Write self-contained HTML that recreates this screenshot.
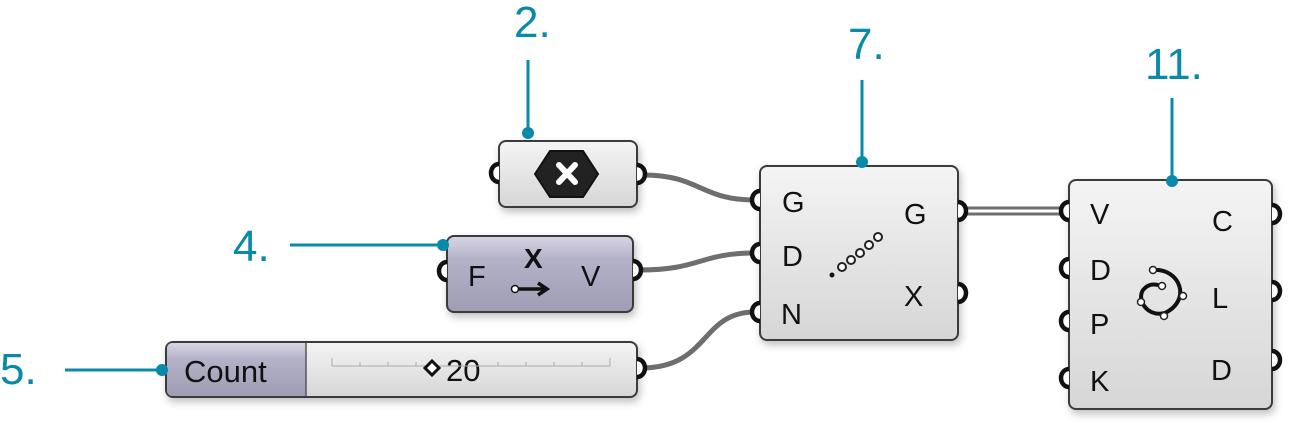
<!DOCTYPE html>
<html><head><meta charset="utf-8"><style>
html,body{margin:0;padding:0;background:#fff;width:1313px;height:441px;overflow:hidden}
svg{display:block}
text{font-family:"Liberation Sans",sans-serif}
</style></head><body>
<svg width="1313" height="441" viewBox="0 0 1313 441" xmlns="http://www.w3.org/2000/svg">
<defs>
<linearGradient id="g1" x1="0" y1="0" x2="0" y2="1"><stop offset="0" stop-color="#f4f4f4"/><stop offset="1" stop-color="#d6d6d6"/></linearGradient>
<linearGradient id="g2" x1="0" y1="0" x2="0" y2="1"><stop offset="0" stop-color="#d8d6e4"/><stop offset="0.3" stop-color="#b4b2c8"/><stop offset="1" stop-color="#9f9db4"/></linearGradient>
<filter id="sh" x="-20%" y="-20%" width="140%" height="150%"><feDropShadow dx="2" dy="4" stdDeviation="4" flood-color="#000" flood-opacity="0.25"/></filter>
</defs>
<g fill="none" stroke="#6e6e6e" stroke-width="5">
<path d="M643 175 C700 175 700 200 755 200"/>
<path d="M640 270 C700 270 700 253 755 253"/>
<path d="M641 368 C710 368 700 312 755 312"/>
</g>
<path d="M966 208 L1062 208 M966 214 L1062 214" stroke="#6e6e6e" stroke-width="3"/>
<g filter="url(#sh)" stroke="#3a3a3a" stroke-width="2">
<rect x="499" y="141" width="138" height="66" rx="7" fill="url(#g1)"/>
<rect x="447" y="236" width="186" height="76" rx="7" fill="url(#g2)"/>
<rect x="166" y="342" width="471" height="55" rx="7" fill="url(#g1)"/>
<rect x="760" y="166" width="198" height="174" rx="7" fill="url(#g1)"/>
<rect x="1069" y="180" width="203" height="229" rx="7" fill="url(#g1)"/>
</g>
<path d="M173 343 H306 V396 H173 Q167 396 167 390 V349 Q167 343 173 343Z" fill="url(#g2)"/>
<line x1="306" y1="343" x2="306" y2="396" stroke="#555" stroke-width="1.5"/>
<g fill="#fff" stroke="#111" stroke-width="4.5">
<path d="M499 164 A8 9 0 0 0 499 182"/><path d="M637 165 A8 9 0 0 1 637 183"/>
<path d="M447 262 A8 9 0 0 0 447 280"/><path d="M633 261 A8 9 0 0 1 633 279"/>
<path d="M637 359 A8 9 0 0 1 637 377"/>
<path d="M760 191 A8 9 0 0 0 760 209"/><path d="M760 244 A8 9 0 0 0 760 262"/><path d="M760 303 A8 9 0 0 0 760 321"/>
<path d="M958 202 A8 9 0 0 1 958 220"/><path d="M958 284 A8 9 0 0 1 958 302"/>
<path d="M1069 202 A8 9 0 0 0 1069 220"/><path d="M1069 259 A8 9 0 0 0 1069 277"/><path d="M1069 312 A8 9 0 0 0 1069 330"/><path d="M1069 369 A8 9 0 0 0 1069 387"/>
<path d="M1272 205 A8 9 0 0 1 1272 223"/><path d="M1272 282 A8 9 0 0 1 1272 300"/><path d="M1272 351 A8 9 0 0 1 1272 369"/>
</g>
<polygon points="535,174 550,151 583,151 598,174 583,197 550,197" fill="#222" stroke="#111" stroke-width="2"/>
<path d="M559 165 L575 182 M575 165 L559 182" stroke="#fff" stroke-width="6" stroke-linecap="round"/>
<g fill="#111" font-size="29">
<text x="468" y="286">F</text><text x="581" y="286">V</text>
<text x="782" y="212">G</text><text x="782" y="266">D</text><text x="781" y="324">N</text>
<text x="904" y="224">G</text><text x="904" y="306">X</text>
<text x="1090" y="224">V</text><text x="1090" y="280">D</text><text x="1090" y="334">P</text><text x="1090" y="391">K</text>
<text x="1212" y="231">C</text><text x="1212" y="308">L</text><text x="1211" y="380">D</text>
<text x="184" y="382" font-size="31">Count</text>
<text x="446" y="381" font-size="31">20</text>
</g>
<text x="524" y="268" font-size="28" font-weight="bold" font-family="Liberation Serif" fill="#111">X</text>
<circle cx="515" cy="289" r="3.5" fill="#fff" stroke="#111" stroke-width="1.5"/>
<path d="M519 289 H546 M538 283 L547 289 L538 295" stroke="#111" stroke-width="3.5" fill="none"/>
<g stroke="#aaa" stroke-width="1"><path d="M332 366 H610 M332 358 V366 M610 358 V366 M360 362V366 M388 362V366 M416 362V366 M498 362V366 M526 362V366 M554 362V366 M582 362V366"/></g>
<polygon points="425,368 432,361 439,368 432,375" fill="#fff" stroke="#111" stroke-width="3"/>
<circle cx="832" cy="275" r="2.5" fill="#111"/>
<g fill="#fff" stroke="#222" stroke-width="2"><circle cx="842" cy="267" r="4"/><circle cx="851" cy="260" r="4"/><circle cx="860" cy="253" r="4"/><circle cx="869" cy="245" r="4"/><circle cx="878" cy="237" r="4"/></g>
<path d="M1153 270 C1180 268 1192 300 1165 313 C1145 318 1135 296 1145 288 C1150 283 1158 284 1162 287" fill="none" stroke="#111" stroke-width="4"/>
<g fill="#fff" stroke="#222" stroke-width="1.5"><circle cx="1153" cy="270" r="3.5"/><circle cx="1162" cy="286" r="3.5"/><circle cx="1183" cy="296" r="3.5"/><circle cx="1141" cy="302" r="3.5"/><circle cx="1164" cy="316" r="3.5"/></g>
<g fill="#0a8aab" stroke="#0a8aab">
<line x1="528" y1="60" x2="528" y2="133" stroke-width="3"/><circle cx="528" cy="133" r="6" stroke="none"/>
<line x1="862" y1="80" x2="862" y2="162" stroke-width="3"/><circle cx="862" cy="162" r="6" stroke="none"/>
<line x1="1172" y1="98" x2="1172" y2="181" stroke-width="3"/><circle cx="1172" cy="181" r="6" stroke="none"/>
<line x1="290" y1="245" x2="443" y2="245" stroke-width="3"/><circle cx="443" cy="245" r="6" stroke="none"/>
<line x1="65" y1="370" x2="162" y2="370" stroke-width="3"/><circle cx="162" cy="370" r="6" stroke="none"/>
</g>
<g fill="#0a8aab" font-size="44">
<text x="514" y="37">2.</text>
<text x="848" y="59">7.</text>
<text x="1145" y="79">11.</text>
<text x="233" y="261">4.</text>
<text x="0" y="384">5.</text>
</g>
</svg>
</body></html>
